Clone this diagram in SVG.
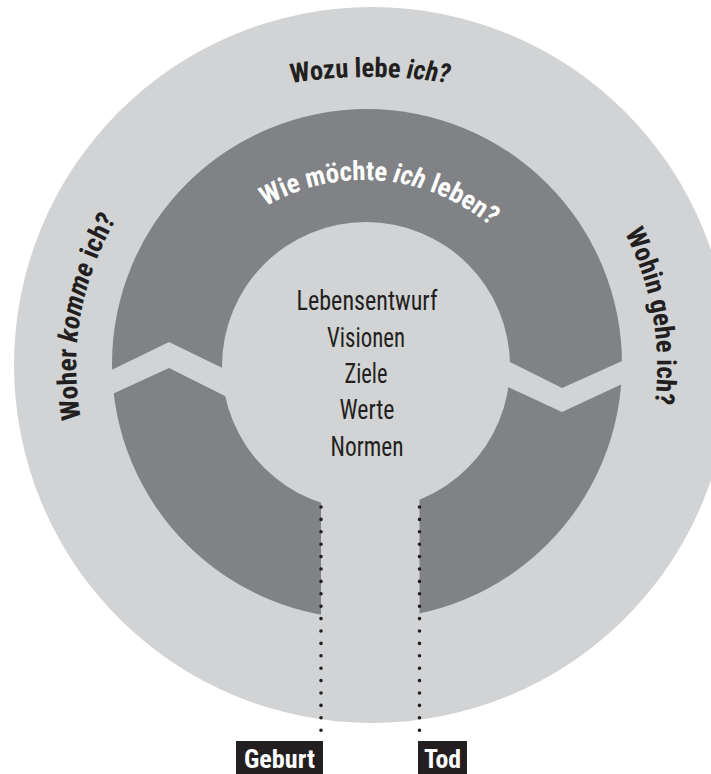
<svg xmlns="http://www.w3.org/2000/svg" width="711" height="774" viewBox="0 0 711 774">
  <style>
    .light { fill: #d1d3d4; }
    .dark { fill: #808285; }
    .q { font-family: "Liberation Sans Narrow", "Roboto Condensed", "DejaVu Sans Condensed", "Liberation Sans", sans-serif; font-stretch: condensed; font-weight: bold; font-size: 27px; fill: #231f20; }
    .q-white { fill: #ffffff; }
    .core { font-family: "Liberation Sans Narrow", "Roboto Condensed", "DejaVu Sans Condensed", "Liberation Sans", sans-serif; font-stretch: condensed; font-size: 27px; fill: #231f20; text-anchor: middle; }
    .tag { font-family: "Liberation Sans Narrow", "Roboto Condensed", "DejaVu Sans Condensed", "Liberation Sans", sans-serif; font-stretch: condensed; font-weight: bold; font-size: 25px; fill: #ffffff; text-anchor: middle; }
    .dots { stroke: #231f20; stroke-width: 3.6; stroke-linecap: round; stroke-dasharray: 0 12.4; fill: none; }
  </style>
  <defs>
    <!-- baselines for the curved questions -->
    <path id="arc-top" d="M158.7,123.8 A500,500 0 0 1 581.3,123.8"/>
    <path id="arc-mid" d="M203.4,263.6 A196,196 0 0 1 541.6,293.2"/>
    <path id="arc-left" d="M144,553 A290,290 0 0 1 222,115"/>
    <path id="arc-right" d="M512,115 A290,290 0 0 1 589,553"/>
  </defs>

  <!-- outer ring -->
  <g id="outer-ring">
    <circle class="light" cx="372" cy="365" r="358"/>
  </g>

  <!-- middle ring with its two zigzag breaks and the open bottom -->
  <g id="life-ring">
    <circle class="dark" cx="367" cy="364" r="255"/>
    <polygon class="light" points="95,378 169,342 245,379 245,406 169,368 95,402"/>
    <polygon class="light" points="495,354.5 562,388 640,353 640,375.7 562,412 495,381"/>
    <rect class="light" x="321" y="440" width="98.5" height="200"/>
    <text class="q q-white" text-anchor="middle"><textPath href="#arc-mid" startOffset="50%" textLength="240" lengthAdjust="spacingAndGlyphs">Wie möchte <tspan font-style="italic">ich</tspan> leben?</textPath></text>
  </g>

  <!-- the three questions of the outer ring -->
  <g id="questions">
    <text class="q" text-anchor="middle"><textPath href="#arc-top" startOffset="50%" textLength="158" lengthAdjust="spacingAndGlyphs">Wozu lebe <tspan font-style="italic">ich?</tspan></textPath></text>
    <text class="q" text-anchor="middle"><textPath href="#arc-left" startOffset="50%" textLength="207" lengthAdjust="spacingAndGlyphs">Woher <tspan font-style="italic">komme</tspan> ich?</textPath></text>
    <text class="q" text-anchor="middle"><textPath href="#arc-right" startOffset="50%" textLength="176" lengthAdjust="spacingAndGlyphs">Wohin gehe ich?</textPath></text>
  </g>

  <!-- centre -->
  <g id="core">
    <circle class="light" cx="366" cy="366" r="144"/>
    <text class="core" x="367" y="310" textLength="141" lengthAdjust="spacingAndGlyphs">Lebensentwurf</text>
    <text class="core" x="366" y="347" textLength="78" lengthAdjust="spacingAndGlyphs">Visionen</text>
    <text class="core" x="366" y="383" textLength="43" lengthAdjust="spacingAndGlyphs">Ziele</text>
    <text class="core" x="367" y="419" textLength="55" lengthAdjust="spacingAndGlyphs">Werte</text>
    <text class="core" x="367" y="456" textLength="73" lengthAdjust="spacingAndGlyphs">Normen</text>
  </g>

  <!-- dotted connectors down to the labels -->
  <g id="connectors">
    <line class="dots" x1="321" y1="507" x2="321" y2="731"/>
    <line class="dots" x1="419.5" y1="507" x2="419.5" y2="731"/>
  </g>

  <g id="birth">
    <rect x="236" y="741" width="87" height="33" fill="#231f20"/>
    <text class="tag" x="279.5" y="768" textLength="71" lengthAdjust="spacingAndGlyphs">Geburt</text>
  </g>

  <g id="death">
    <rect x="418" y="741" width="49" height="33" fill="#231f20"/>
    <text class="tag" x="442.5" y="768" textLength="37" lengthAdjust="spacingAndGlyphs">Tod</text>
  </g>
</svg>
